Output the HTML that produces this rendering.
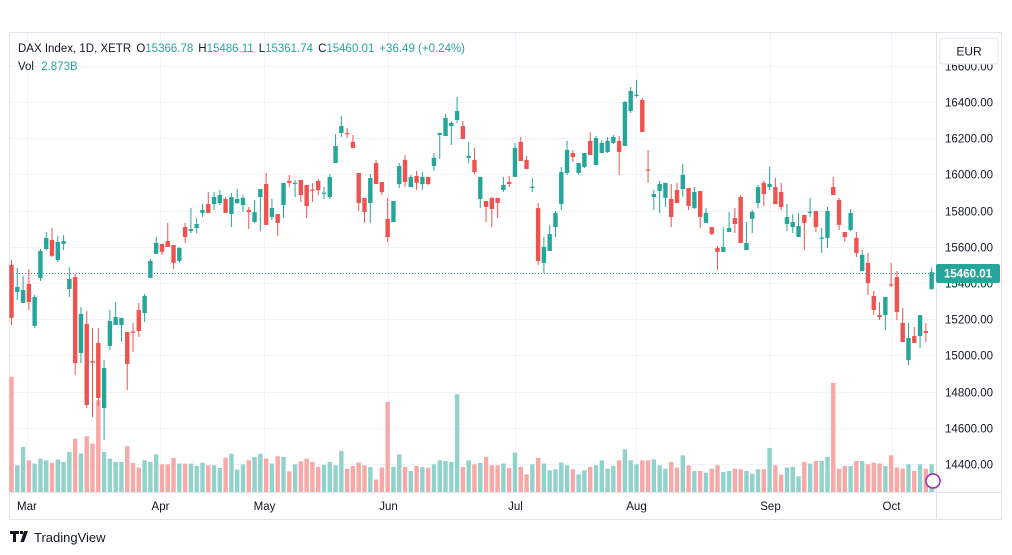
<!DOCTYPE html>
<html><head><meta charset="utf-8">
<style>
html,body{margin:0;padding:0;background:#fff;width:1012px;height:555px;overflow:hidden;font-family:"Liberation Sans",sans-serif;}
svg{position:absolute;left:0;top:0;}
</style></head>
<body>
<svg id="chart" width="1012" height="555" viewBox="0 0 1012 555" xmlns="http://www.w3.org/2000/svg">
  <rect x="9.5" y="32.5" width="992" height="487" fill="#fff" stroke="#e0e3eb"/>
  <g id="grid"></g>
  <g id="vol"></g>
  <g id="candles"></g>
  <line x1="10" y1="273.5" x2="936" y2="273.5" stroke="#26a69a" stroke-dasharray="1,2"/>
  <line x1="936.5" y1="33" x2="936.5" y2="519" stroke="#e0e3eb"/>
  <line x1="10" y1="492.5" x2="1002" y2="492.5" stroke="#e0e3eb"/>
  <g id="yaxis" font-size="11.5" fill="#131722"></g>
  <g id="xaxis" font-size="11.5" fill="#131722"></g>
  <rect x="940" y="38" width="58" height="26" rx="3" fill="#fff" stroke="#e0e3eb"/>
  <text x="969" y="55.5" text-anchor="middle" font-size="12" fill="#131722">EUR</text>
  <rect x="936" y="264" width="64" height="19" rx="2" fill="#26a69a"/>
  <text x="968" y="277.5" text-anchor="middle" font-size="11.5" font-weight="bold" fill="#fff">15460.01</text>
  <text x="18" y="52" font-size="11.5" fill="#131722">DAX Index, 1D, XETR <tspan dx="2">O</tspan><tspan fill="#26a69a">15366.78</tspan><tspan dx="5">H</tspan><tspan fill="#26a69a">15486.11</tspan><tspan dx="5">L</tspan><tspan fill="#26a69a">15361.74</tspan><tspan dx="5">C</tspan><tspan fill="#26a69a">15460.01</tspan><tspan dx="5" fill="#26a69a">+36.49 (+0.24%)</tspan></text>
  <text x="18" y="70" font-size="11.5" fill="#131722">Vol <tspan dx="4" fill="#26a69a">2.873B</tspan></text>
  <circle cx="933" cy="481" r="7" fill="#fff" stroke="#9c27b0" stroke-width="1.5"/>
  <g>
    <path d="M10 531h9v3h-3v8h-3v-8h-3z M20 531h3v3h-3z M24 531h4l-4 11h-3.5z" fill="#131722"/>
    <text x="34" y="542" font-size="13" fill="#131722">TradingView</text>
  </g>
</svg>
<script>
const opens=[15500,15350,15290,15395,15163,15428,15588,15638,15527,15616,15367,15433,15013,15174,14968,15069,14709,15052,15168,15168,15129,15132,15251,15234,15428,15561,15616,15632,15610,15522,15709,15687,15704,15787,15836,15836,15842,15864,15781,15842,15831,15803,15737,15875,15947,15765,15781,15831,15964,15947,15969,15942,15916,15964,15895,15875,16063,16229,16229,16179,16008,15870,15842,16063,15958,15754,15737,15947,16080,15930,15991,15947,15986,16046,16218,16212,16267,16301,16267,16091,16080,15864,15853,15870,15870,15914,15958,15986,16179,16080,15928,15814,15511,15577,15709,15836,16008,16118,16008,16041,16185,16052,16118,16124,16174,16185,16157,16350,16435,16411,16027,15875,15908,15870,15864,15914,15919,15925,15814,15908,15732,15709,15594,15572,15682,15759,15875,15582,15754,15842,15953,15930,15930,15903,15726,15709,15654,15776,15790,15798,15647,15649,15930,15859,15682,15693,15649,15466,15511,15328,15223,15223,15392,15433,15179,14974,15107,15107,15135,15367];
const highs=[15527,15483,15440,15477,15334,15588,15682,15704,15660,15665,15488,15450,15267,15245,15151,15151,14975,15251,15295,15207,15129,15179,15290,15340,15533,15654,15616,15732,15610,15599,15732,15814,15759,15836,15903,15903,15914,15875,15897,15919,15886,15820,15859,15919,16008,15864,15781,15953,15997,15969,15969,15942,15953,15975,15930,16002,16223,16323,16256,16218,16008,15870,16002,16080,15958,15870,15853,16063,16107,15997,16019,16013,15986,16118,16229,16334,16295,16428,16295,16179,16146,15986,15853,15875,15870,15986,15991,16174,16207,16102,15980,15842,15654,15721,15798,16041,16185,16135,16063,16118,16234,16212,16190,16207,16218,16212,16405,16483,16522,16422,16135,15914,15964,15953,15947,15953,16058,15925,15930,15908,15814,15709,15605,15709,15792,15814,15886,15737,15803,15942,15964,16041,15980,15953,15836,15781,15787,15776,15870,15798,15704,15820,15986,15870,15682,15809,15682,15582,15566,15356,15295,15323,15511,15466,15262,15179,15157,15223,15179,15486];
const lows=[15168,15306,15290,15251,15151,15411,15582,15544,15516,15582,15323,14892,14958,14709,14660,14720,14533,15030,15168,15074,14809,15020,15102,15185,15428,15561,15555,15599,15477,15511,15621,15676,15676,15765,15787,15803,15831,15787,15709,15836,15792,15698,15732,15687,15721,15748,15660,15759,15930,15875,15848,15759,15848,15886,15864,15864,16063,16207,16201,16146,15798,15732,15732,15947,15886,15627,15737,15925,15930,15930,15914,15914,15942,16019,16085,16212,16163,16284,16196,16063,16002,15814,15737,15709,15759,15903,15930,15986,16074,16030,15903,15500,15455,15577,15654,15803,15997,16069,15997,16036,16107,16052,16118,16118,16168,15997,16157,16339,16428,16234,15953,15803,15787,15820,15709,15842,15875,15803,15809,15704,15732,15665,15472,15572,15682,15676,15621,15582,15676,15814,15825,15914,15836,15803,15687,15676,15654,15582,15765,15682,15566,15594,15886,15693,15627,15687,15544,15466,15334,15223,15196,15140,15378,15196,15074,14947,15069,15041,15074,15362];
const closes=[15207,15378,15361,15295,15323,15577,15649,15550,15627,15632,15422,14958,15229,14726,14960,14765,14930,15190,15212,15207,14953,15129,15135,15328,15522,15621,15572,15599,15511,15594,15654,15698,15726,15803,15787,15875,15886,15787,15875,15864,15870,15792,15792,15919,15721,15814,15732,15953,15953,15953,15886,15825,15912,15914,15899,15986,16157,16267,16223,16146,15842,15792,15980,15947,15903,15654,15853,16046,15958,15986,15953,15986,15947,16091,16229,16312,16284,16350,16196,16102,16013,15986,15820,15809,15842,15942,15947,16146,16074,16030,15932,15522,15599,15671,15787,16013,16135,16096,16063,16118,16107,16201,16174,16185,16207,16124,16400,16461,16440,16234,16022,15892,15947,15953,15765,15842,15997,15825,15903,15765,15787,15671,15572,15599,15704,15726,15621,15621,15792,15930,15892,15947,15836,15820,15765,15737,15715,15732,15794,15709,15651,15798,15886,15721,15654,15787,15566,15555,15400,15251,15212,15323,15389,15240,15074,15096,15069,15223,15124,15460];
const volumes=[11.8,2.74,4.62,3.25,2.91,3.42,3.25,2.98,3.32,3.08,4.10,5.47,3.93,5.71,4.96,9.41,4.10,3.42,3.08,3.08,4.69,2.98,2.50,3.25,3.08,3.86,2.84,2.84,3.49,2.91,2.91,2.91,2.67,3.01,2.74,2.74,2.46,3.52,3.93,2.29,2.84,3.25,3.59,3.93,3.42,2.91,3.66,3.59,2.12,2.84,3.15,3.42,3.08,2.57,2.80,3.08,2.74,4.21,2.39,2.67,3.01,2.74,2.57,1.27,2.50,9.23,2.57,3.86,2.57,2.15,2.67,2.57,2.50,2.84,3.25,3.18,3.08,10.02,2.57,3.25,2.84,2.98,3.59,2.74,2.74,2.91,2.46,4.04,2.57,1.81,2.84,3.49,2.91,2.22,2.33,3.01,2.74,2.33,1.81,2.22,2.57,2.74,3.25,2.39,2.67,3.25,4.38,3.25,2.84,3.25,3.25,3.35,2.74,2.39,3.08,2.50,3.76,2.74,2.15,2.15,1.98,2.39,2.74,2.05,2.15,2.39,2.33,2.15,1.88,2.33,2.33,4.51,2.74,1.78,2.50,2.57,1.61,3.08,2.91,3.18,3.18,3.59,11.18,2.39,2.67,2.67,3.18,3.18,2.84,3.01,2.91,2.67,3.76,2.50,2.39,2.84,2.15,2.84,2.39,2.84,2.87];
const priceTicks=[16600,16400,16200,16000,15800,15600,15400,15200,15000,14800,14600,14400];
const monthLabels=["Mar","Apr","May","Jun","Jul","Aug","Sep","Oct"];
const monthStartIndex=[2.7,25.7,43.7,65,87,108,131,152];

const NS="http://www.w3.org/2000/svg";
const X0=11.5, STEP=5.787;
function xScale(i){return X0+i*STEP;}
function yScale(p){return 102+(16400-p)*0.181;}
function vScale(v){return 492-v/0.1025;}
function mk(tag,attrs,parent){const e=document.createElementNS(NS,tag);for(const k in attrs)e.setAttribute(k,attrs[k]);parent.appendChild(e);return e;}

const grid=document.getElementById('grid');
const yaxis=document.getElementById('yaxis');
const xaxis=document.getElementById('xaxis');
priceTicks.forEach(p=>{
  const y=Math.round(yScale(p))+0.5;
  const gl=mk('line',{x1:10,x2:936,y1:y,y2:y,stroke:'#f0f3fa'},grid);
  
  
  const t=mk('text',{x:993,y:y+4,'text-anchor':'end'},yaxis);
  t.textContent=p.toFixed(2);
  
  
});
monthLabels.forEach((m,k)=>{
  const x=Math.round(xScale(monthStartIndex[k]))+0.5;
  const gl=mk('line',{x1:x,x2:x,y1:33,y2:492,stroke:'#f0f3fa'},grid);
  
  
  const t=mk('text',{x:k===0?17:x,y:510,'text-anchor':k===0?'start':'middle'},xaxis);
  t.textContent=m;
  
  
});

const vol=document.getElementById('vol');
const cg=document.getElementById('candles');
for(let i=0;i<opens.length;i++){
  const up=closes[i]>=opens[i];
  const col=up?'#26a69a':'#ef5350';
  const x=xScale(i);
  const vy=vScale(volumes[i]);
  const vb=mk('rect',{x:x-2.2,y:vy,width:4.4,height:492-vy,fill:up?'#92d2cc':'#f7a9a7'},vol);
  
  
  const w=mk('line',{x1:x,x2:x,y1:yScale(highs[i]),y2:yScale(lows[i]),stroke:col,'stroke-width':1},cg);
  
  
  const top=yScale(Math.max(opens[i],closes[i]));
  const bot=yScale(Math.min(opens[i],closes[i]));
  const b=mk('rect',{x:x-2.2,y:top,width:4.4,height:Math.max(1.2,bot-top),fill:col},cg);
  
  
}
</script>
</body></html>
